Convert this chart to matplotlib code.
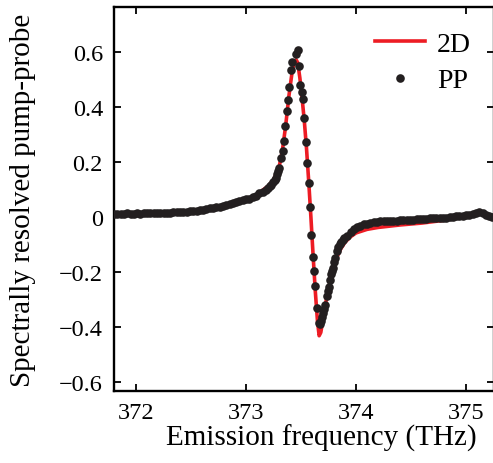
import matplotlib
matplotlib.use("Agg")
import matplotlib.pyplot as plt
from matplotlib.ticker import FuncFormatter

plt.rcParams['font.family'] = ['Liberation Serif', 'DejaVu Serif']
plt.rcParams['axes.unicode_minus'] = True

# 2D spectrum (red line)
d2_x = [371.80, 372.00, 372.30, 372.50, 372.70, 372.80, 372.90, 373.00, 373.10,
        373.20, 373.25, 373.30, 373.33, 373.36, 373.39, 373.42, 373.44, 373.455,
        373.47, 373.49, 373.51, 373.53, 373.55, 373.57, 373.59, 373.61, 373.63,
        373.65, 373.665, 373.68, 373.70, 373.72, 373.75, 373.78, 373.82, 373.86,
        373.90, 373.95, 374.00, 374.10, 374.20, 374.40, 374.60, 374.80, 375.00,
        375.10, 375.15, 375.20, 375.25]
d2_y = [0.012, 0.013, 0.015, 0.020, 0.028, 0.034, 0.045, 0.060, 0.082,
        0.112, 0.135, 0.180, 0.240, 0.330, 0.440, 0.530, 0.565, 0.572,
        0.562, 0.505, 0.432, 0.350, 0.250, 0.130, 0.000, -0.140, -0.270,
        -0.380, -0.432, -0.420, -0.372, -0.322, -0.262, -0.205, -0.152, -0.117,
        -0.092, -0.072, -0.058, -0.045, -0.038, -0.029, -0.022, -0.012, 0.002,
        0.012, 0.014, 0.005, 0.000]

# pump-probe (black dots)
pp_x = [371.80, 371.83, 371.86, 371.89, 371.92, 371.95, 371.98, 372.01, 372.04,
        372.07, 372.10, 372.13, 372.16, 372.19, 372.22, 372.25, 372.28, 372.31,
        372.34, 372.37, 372.40, 372.43, 372.46, 372.49, 372.52, 372.55, 372.58,
        372.61, 372.64, 372.67, 372.70, 372.73, 372.76, 372.79, 372.82, 372.85,
        372.88, 372.91, 372.94, 372.97, 373.00, 373.03, 373.06, 373.09, 373.12,
        373.15, 373.18,
        373.200, 373.215, 373.230, 373.245, 373.260, 373.272, 373.283, 373.292,
        373.300, 373.318, 373.334, 373.345, 373.357, 373.370, 373.385, 373.394,
        373.406, 373.420, 373.455, 373.470, 373.485, 373.490, 373.506, 373.518,
        373.530, 373.545, 373.557, 373.570, 373.582, 373.594, 373.606, 373.615,
        373.630, 373.648, 373.660, 373.670, 373.679, 373.690, 373.700, 373.710,
        373.720, 373.733, 373.742, 373.750, 373.760, 373.770, 373.780, 373.790,
        373.800, 373.810, 373.825, 373.838, 373.850, 373.865, 373.880, 373.895,
        373.92, 373.95, 373.98, 374.01, 374.04, 374.07, 374.10, 374.13, 374.16,
        374.19, 374.22, 374.25, 374.28, 374.31, 374.34, 374.37, 374.40, 374.43,
        374.46, 374.49, 374.52, 374.55, 374.58, 374.61, 374.64, 374.67, 374.70,
        374.73, 374.76, 374.79, 374.82, 374.85, 374.88, 374.91, 374.94, 374.97,
        375.00, 375.03, 375.06, 375.09, 375.12, 375.15, 375.18, 375.21, 375.24]
pp_y = [0.012, 0.012, 0.011, 0.012, 0.013, 0.012, 0.012, 0.013, 0.012,
        0.013, 0.013, 0.014, 0.013, 0.014, 0.015, 0.015, 0.016, 0.016,
        0.017, 0.018, 0.018, 0.019, 0.020, 0.021, 0.022, 0.023, 0.025,
        0.027, 0.029, 0.031, 0.033, 0.035, 0.038, 0.040, 0.043, 0.046,
        0.050, 0.054, 0.057, 0.061, 0.064, 0.067, 0.071, 0.078, 0.086,
        0.092, 0.098,
        0.104, 0.112, 0.118, 0.126, 0.134, 0.143, 0.155, 0.167,
        0.180, 0.213, 0.241, 0.275, 0.330, 0.387, 0.427, 0.472,
        0.536, 0.565, 0.593, 0.607, 0.548, 0.481, 0.453, 0.429,
        0.359, 0.272, 0.196, 0.124, 0.037, -0.065, -0.144, -0.195,
        -0.250, -0.331, -0.385, -0.390, -0.377, -0.362, -0.349, -0.333,
        -0.320, -0.286, -0.268, -0.253, -0.230, -0.207, -0.198, -0.185,
        -0.165, -0.150, -0.122, -0.110, -0.098, -0.090, -0.082, -0.076,
        -0.068, -0.056, -0.045, -0.037, -0.031, -0.027, -0.024, -0.021, -0.019,
        -0.017, -0.016, -0.015, -0.014, -0.014, -0.013, -0.013, -0.012, -0.012,
        -0.011, -0.010, -0.010, -0.009, -0.008, -0.007, -0.006, -0.005, -0.004,
        -0.003, -0.003, -0.002, -0.002, 0.000, 0.001, 0.002, 0.003, 0.005,
        0.007, 0.009, 0.012, 0.016, 0.020, 0.016, 0.008, 0.003, 0.000]

x_ticks = [372, 373, 374, 375]
y_ticks = [-0.6, -0.4, -0.2, 0, 0.2, 0.4, 0.6]

W, H = 493, 464
fig = plt.figure(figsize=(W / 100, H / 100), dpi=100)
ax = fig.add_axes([114 / W, 72 / H, 379.5 / W, 384 / H])

ax.plot(d2_x, d2_y, color='#ed1c24', lw=2.6, label='2D', zorder=2)
ax.plot(pp_x, pp_y, 'o', color='#231f20', ms=6.2, mec='none', label='PP', zorder=3)

ax.set_xlim(371.8, 375.25)
ax.set_ylim(-0.633, 0.764)
ax.set_xticks(x_ticks)
ax.set_yticks(y_ticks)
ax.yaxis.set_major_formatter(FuncFormatter(lambda v, p: ('%g' % v).replace('-', '\u2212')))

ax.tick_params(direction='in', length=5, width=1.3, labelsize=17.5,
               top=True, right=True, pad=8)
for s in ax.spines.values():
    s.set_linewidth(1.7)

ax.set_xlabel('Emission frequency (THz)', fontsize=21)
ax.xaxis.set_label_coords((321 - 114) / 379.5, -0.085)
ax.set_ylabel('Spectrally resolved pump-probe', fontsize=21)
ax.yaxis.set_label_coords(-0.205, 0.5)

ax.legend(loc='upper right', frameon=False, fontsize=20, handlelength=1.8,
          handletextpad=0.45, borderaxespad=0.2, labelspacing=0.4,
          bbox_to_anchor=(0.985, 0.98))

fig.savefig('out.png', dpi=100)
